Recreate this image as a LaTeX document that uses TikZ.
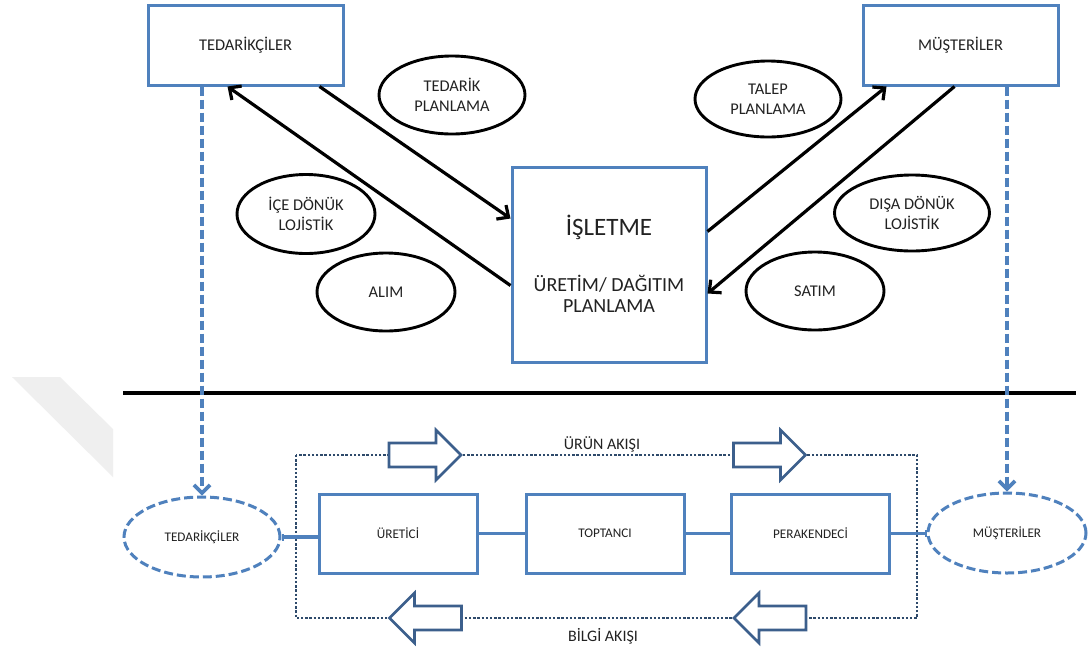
\documentclass[tikz,border=0pt]{standalone}
\usepackage{fontspec}
\setmainfont{Carlito}
\usetikzlibrary{arrows.meta,shapes.geometric}

\definecolor{boxblue}{HTML}{4F81BD}
\definecolor{flowblue}{HTML}{3C5F8C}
\definecolor{dotblue}{HTML}{2E4A6B}
\definecolor{wmgray}{HTML}{EFEFEF}
\definecolor{ink}{HTML}{222222}

\begin{document}
\begin{tikzpicture}[x=1pt,y=-1pt,
  every node/.style={text=ink},
  topbox/.style={draw=boxblue,line width=3pt,fill=white,rectangle,
    inner sep=0pt,font=\fontsize{16.4}{20}\selectfont},
  oval/.style={ellipse,draw=black,line width=2.9pt,fill=white,inner sep=1pt,
    align=center,font=\fontsize{16.4}{20}\selectfont},
  lowbox/.style={draw=boxblue,line width=3pt,fill=white,rectangle,
    inner sep=0pt,minimum width=158pt,minimum height=79pt,
    font=\fontsize{13.2}{16}\selectfont},
  dashoval/.style={ellipse,draw=boxblue,line width=3pt,
    dash pattern=on 9pt off 4pt,fill=white,inner sep=1pt,
    font=\fontsize{13.2}{16}\selectfont},
  flowarrow/.style={draw=black,line width=3.2pt,
    -{Straight Barb[length=9pt,width=17pt,line width=3.2pt]}},
  link/.style={draw=boxblue,line width=3.4pt},
  dashlink/.style={draw=boxblue,line width=3.8pt,dash pattern=on 9pt off 4pt,
    -{Straight Barb[length=8pt,width=16pt,line width=3.6pt]}},
  dotframe/.style={draw=dotblue,line width=2.6pt,dash pattern=on 2.4pt off 1.8pt},
  flowlabel/.style={font=\fontsize{16}{20}\selectfont},
  pics/blockarrow/.style={code={
    \draw[draw=flowblue,line width=2.6pt,fill=white,line join=miter]
      (-36,-12) -- (11,-12) -- (11,-25) -- (36,0) -- (11,25) -- (11,12)
      -- (-36,12) -- cycle;}}
]
\useasboundingbox (0,0) rectangle (1088,649);
\fill[white] (0,0) rectangle (1088,649);

% faint band in the lower left corner
\fill[wmgray] (12,377) -- (60,377) -- (113,429) -- (113,477) -- cycle;

% ---------- upper part: planning view ----------
\node[topbox,minimum width=195pt,minimum height=80pt] (ted) at (245.5,45) {TEDARİKÇİLER};
\node[topbox,minimum width=195pt,minimum height=80pt] (mus) at (960.5,45) {MÜŞTERİLER};

\node[topbox,minimum width=194pt,minimum height=195pt] (isl) at (609,264.5) {};
\node[font=\fontsize{25}{30}\selectfont] (islT) at (609,227) {İŞLETME};
\node[font=\fontsize{20}{21}\selectfont,align=center] (islU) at (609,294)
  {ÜRETİM/ DAĞITIM\\PLANLAMA};

\node[oval,minimum width=146pt,minimum height=78pt] (tplan) at (452,95) {TEDARİK\\PLANLAMA};
\node[oval,minimum width=138pt,minimum height=79pt] (ice) at (306,214) {İÇE DÖNÜK\\LOJİSTİK};
\node[oval,minimum width=138pt,minimum height=78pt] (alim) at (386,292) {ALIM};
\node[oval,minimum width=146pt,minimum height=76pt] (talep) at (768,99) {TALEP\\PLANLAMA};
\node[oval,minimum width=155pt,minimum height=76pt] (disa) at (912,213) {DIŞA DÖNÜK\\LOJİSTİK};
\node[oval,minimum width=138pt,minimum height=78pt] (satim) at (815,291) {SATIM};

\draw[flowarrow] ([xshift=173pt]ted.south west) -- ([yshift=-53pt]isl.north west);
\draw[flowarrow] ([yshift=-120pt]isl.north west) -- ([xshift=81pt]ted.south west);
\draw[flowarrow] ([yshift=-66pt]isl.north east) -- ([xshift=25pt]mus.south west);
\draw[flowarrow] ([xshift=93pt]mus.south west) -- ([yshift=-128pt]isl.north east);

% separating rule
\coordinate (ruleL) at (123,393);
\coordinate (ruleR) at (1076,393);
\draw[line width=4pt] (ruleL) -- (ruleR);

% ---------- lower part: supply chain ----------
\coordinate (frameNW) at (296,455);
\coordinate (frameSE) at (917,618);
\draw[dotframe] (frameNW) rectangle (frameSE);

\pic (prodA) at (425,455) {blockarrow};
\pic (prodB) at (769.5,455) {blockarrow};
\pic[xscale=-1] (infoA) at (425.5,618) {blockarrow};
\pic[xscale=-1] (infoB) at (770,618) {blockarrow};

\node[flowlabel] (urunLbl) at (602,444) {ÜRÜN AKIŞI};
\node[flowlabel] (bilgiLbl) at (603,636) {BİLGİ AKIŞI};

\node[dashoval,minimum width=156pt,minimum height=80pt] (ted2) at (202,537) {TEDARİKÇİLER};
\node[dashoval,minimum width=158pt,minimum height=80pt] (mus2) at (1007,533) {MÜŞTERİLER};

\node[lowbox] (ure) at (398,533.5) {ÜRETİCİ};
\node[lowbox] (top) at (605,533.5) {TOPTANCI};
\node[lowbox] (per) at (810.5,533.5) {PERAKENDECİ};

\draw[link,{Bar[width=7pt,line width=2pt]}-] (ted2.east) -- (ted2.east -| ure.west);
\draw[link] (ure) -- (top);
\draw[link] (top) -- (per);
\draw[link,-{Bar[width=7pt,line width=2pt]}] (per.east) -- (per.east -| mus2.west);

% links between the two views
\draw[dashlink] (ted2.north |- ted.south) -- (ted2.north);
\draw[dashlink] (mus2.north |- mus.south) -- (mus2.north);
\end{tikzpicture}
\end{document}
